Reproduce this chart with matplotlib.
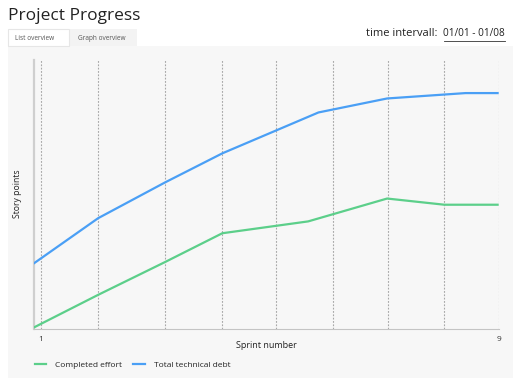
import matplotlib.pyplot as plt
from matplotlib.patches import Rectangle
from matplotlib.lines import Line2D

plt.rcParams['font.family'] = ['Open Sans', 'DejaVu Sans']

W, H = 513, 378

# sprint positions of the line vertices (fractional sprints)
debt_x = [0.87, 2.0, 3.17, 4.17, 5.85, 7.05, 8.42, 9.0]
debt_y = [24.3, 41.2, 54.5, 65.3, 80.5, 85.7, 87.7, 87.7]
effort_x = [0.87, 2.0, 3.17, 4.17, 5.67, 7.05, 8.05, 9.0]
effort_y = [0.5, 12.7, 24.9, 35.6, 40.0, 48.5, 46.2, 46.2]

# dotted sprint markers
sprint_marks = [1, 2, 3.17, 4.17, 5.11, 6.11, 7.06, 8.05, 9]
tick_pos = [1, 9]
tick_labels = ['1', '9']

blue = '#4a9ff5'
green = '#5ccf8a'


def fx(px):
    return px / W


def fy(py):
    return 1 - py / H


fig = plt.figure(figsize=(W / 100, H / 100), dpi=100)
fig.patch.set_facecolor('white')

# grey content panel and tabs
fig.add_artist(Rectangle((fx(8), 0), 1 - fx(8), fy(46), transform=fig.transFigure,
                         facecolor='#f7f7f7', edgecolor='none', zorder=0))
fig.add_artist(Rectangle((fx(70), fy(46)), fx(137) - fx(70), fy(29) - fy(46),
                         transform=fig.transFigure, facecolor='#f3f3f3', edgecolor='none', zorder=0))
fig.add_artist(Rectangle((fx(8), fy(46)), fx(69) - fx(8), fy(29) - fy(46),
                         transform=fig.transFigure, facecolor='white', edgecolor='#e6e6e6',
                         linewidth=0.8, zorder=1))

fig.text(fx(8), fy(16), 'Project Progress', fontsize=12.5, color='#222222', va='center', ha='left')
fig.text(fx(15), fy(38), 'List overview', fontsize=4.7, color='#555555', va='center', ha='left')
fig.text(fx(78), fy(38), 'Graph overview', fontsize=4.7, color='#555555', va='center', ha='left')
fig.text(fx(437), fy(34), 'time intervall:', fontsize=8, color='#222222', va='center', ha='right')
fig.text(fx(505), fy(34), '01/01 - 01/08', fontsize=7.2, color='#222222', va='center', ha='right')
fig.add_artist(Line2D([fx(444), fx(505)], [fy(41), fy(41)], transform=fig.transFigure,
                      color='#333333', lw=0.6))

ax = fig.add_axes([fx(33.5), fy(329), fx(498.7) - fx(33.5), fy(60) - fy(329)])
ax.set_facecolor('none')
ax.set_xlim(0.87, 9.0)
ax.set_ylim(0, 100)

for s in sprint_marks:
    ax.axvline(s, color='#a8a8a8', lw=0.8, ls=(0, (1.6, 1.4)), zorder=1)

ax.plot(effort_x, effort_y, color=green, lw=1.6, zorder=3, solid_capstyle='butt')
ax.plot(debt_x, debt_y, color=blue, lw=1.6, zorder=3, solid_capstyle='butt')

for side in ['top', 'right']:
    ax.spines[side].set_visible(False)
ax.spines['left'].set_color('#cfcfcf')
ax.spines['left'].set_linewidth(1.6)
ax.spines['bottom'].set_color('#c4c4c4')
ax.spines['bottom'].set_linewidth(0.8)

ax.set_yticks([])
ax.set_xticks(tick_pos)
ax.set_xticklabels(tick_labels, fontsize=6, color='#333333')
ax.tick_params(axis='x', length=0, pad=5)

fig.text(fx(266), fy(345), 'Sprint number', fontsize=6.5, color='#222222', ha='center', va='center')
fig.text(fx(18), fy(194), 'Story points', fontsize=6.2, color='#222222', ha='center', va='center',
         rotation=90)

handles = [Line2D([], [], color=green, lw=1.6), Line2D([], [], color=blue, lw=1.6)]
fig.legend(handles, ['Completed effort', 'Total technical debt'], loc='center left',
           bbox_to_anchor=(fx(27), fy(365)), frameon=False, ncol=2, fontsize=6,
           handlelength=1.4, handletextpad=1.1, columnspacing=1.3, labelcolor='#222222')

fig.savefig('out.png', dpi=100, facecolor='white')
